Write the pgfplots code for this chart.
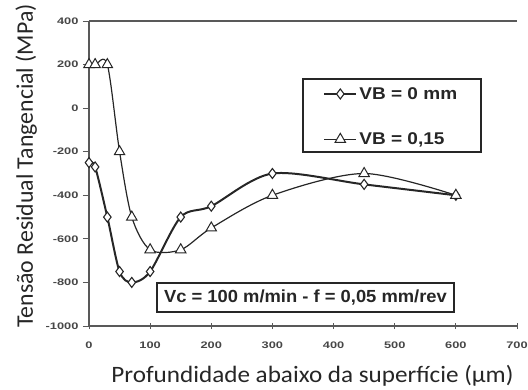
\documentclass[border=0pt]{standalone}
\usepackage{pgfplots}
\pgfplotsset{compat=1.18}
\usepackage{fontspec}
\setmainfont{Liberation Sans}
\newfontfamily\calib{Carlito}
\newfontfamily\calibw[FakeStretch=1.07]{Carlito}
\newfontfamily\wideA[FakeStretch=1.35]{Liberation Sans}
\newfontfamily\wideB[FakeStretch=1.12]{Liberation Sans}
\newfontfamily\wideC[FakeStretch=1.05]{Liberation Sans}
\definecolor{ink}{gray}{0.15}
\definecolor{axc}{gray}{0.35}
\begin{document}
\begin{tikzpicture}
\begin{axis}[
  at={(0pt,0pt)}, anchor=south west,
  scale only axis, width=428pt, height=305pt,
  xmin=0, xmax=700, ymin=-1000, ymax=400,
  axis x line=box, axis y line=left,
  axis line style={-, axc, line width=1.1pt},
  xtick={0,100,...,700}, ytick={-1000,-800,...,400},
  xticklabels={0,100,200,300,400,500,600,700},
  yticklabels={-1000,-800,-600,-400,-200,0,200,400},
  xtick pos=bottom, ytick pos=left,
  xtick align=center, ytick align=outside,
  major tick length=6pt,
  tick style={axc, line width=0.9pt},
  ticklabel style={font=\wideA\bfseries\fontsize{9.5}{10}\selectfont, text=ink!85},
  xticklabel style={yshift=-9pt},
  yticklabel style={xshift=-1pt},
  legend style={draw=none, fill=none, at={(0.547,0.79)}, anchor=north west,
    inner sep=0pt, row sep=28pt, font=\wideB\bfseries\fontsize{17}{17}\selectfont, text=ink,
    nodes={inner sep=2pt}},
  legend cell align=left,
  legend image code/.code={\draw[mark repeat=2,mark phase=2,#1] plot coordinates {(0pt,0pt) (16pt,0pt) (32pt,0pt)};},
]
\addplot[ink, line width=2pt, smooth, tension=0.5, mark=diamond*,
  mark size=5pt, mark options={fill=white, line width=1.1pt, draw=ink}]
  coordinates {(0,-250) (10,-270) (30,-500) (50,-750) (70,-800) (100,-750)
  (150,-500) (200,-450) (300,-300) (450,-350) (600,-400)};
\addlegendentry{VB = 0 mm}
\addplot[ink, line width=1.2pt, smooth, tension=0.5, mark=triangle*,
  mark size=6pt, mark options={fill=white, line width=1pt, draw=ink}]
  coordinates {(0,200) (10,200) (30,200) (50,-200) (70,-500) (100,-650)
  (150,-650) (200,-550) (300,-400) (450,-300) (600,-400)};
\addlegendentry{VB = 0,15}
\end{axis}
% legend frame
\draw[ink, line width=1.3pt] (214pt,174pt) rectangle (392pt,247pt);
% annotation box
\node[draw=ink, line width=1.4pt, minimum width=297pt, minimum height=29pt, inner sep=0pt,
  font=\wideC\bfseries\fontsize{17.5}{18}\selectfont, text=ink] at (216.5pt,28.5pt) {Vc = 100 m/min - f = 0,05 mm/rev};
% axis titles
\node[anchor=base, font=\calibw\fontsize{23.5}{24}\selectfont, text=ink] at (223.5pt,-56.5pt)
  {Profundidade abaixo da superfície (μm)};
\node[anchor=base, rotate=90, font=\calib\fontsize{23.8}{24}\selectfont, text=ink] at (-56pt,160pt)
  {Tensão Residual Tangencial (MPa)};
\pgfresetboundingbox
\useasboundingbox (-89pt,-63pt) rectangle (439pt,326pt);
\end{tikzpicture}
\end{document}
